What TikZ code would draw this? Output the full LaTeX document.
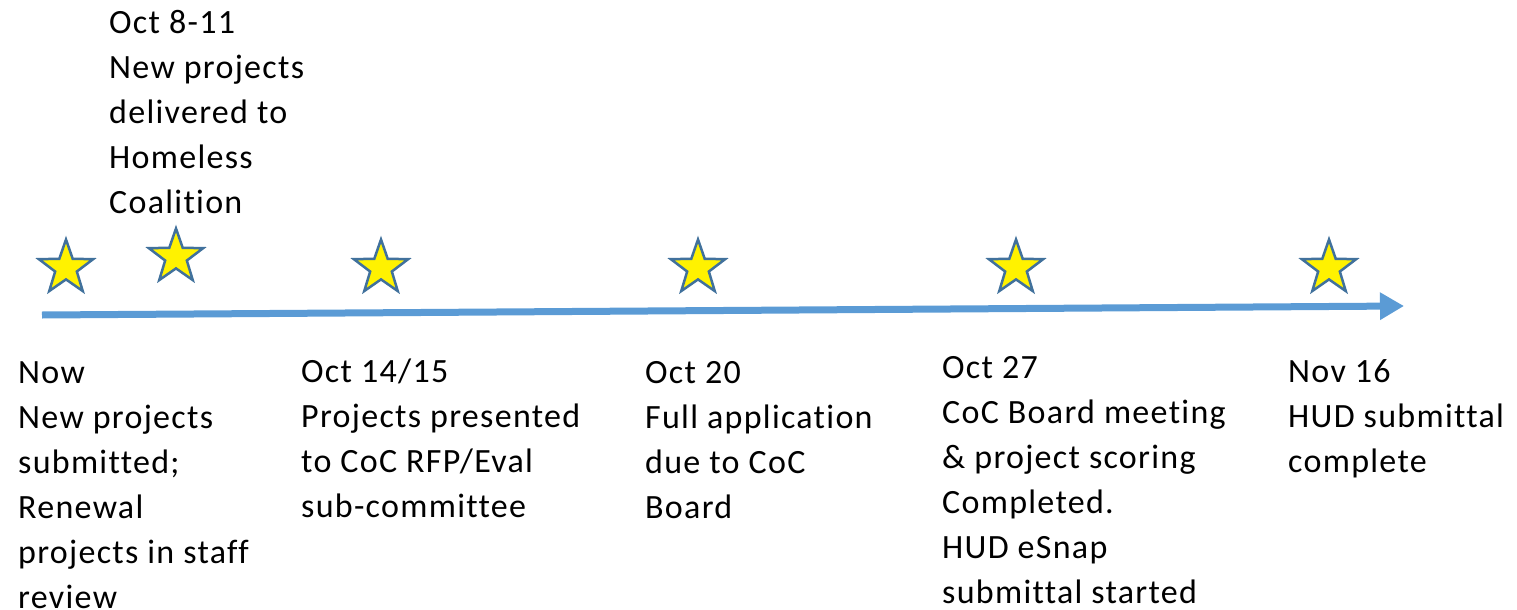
\documentclass[tikz,border=0pt]{standalone}
\usepackage{fontspec}
\setmainfont{Carlito}[LetterSpace=3.8,Ligatures=NoCommon]
\usepackage{tikz}
\usetikzlibrary{positioning,shapes.geometric,arrows.meta}
\definecolor{lineblue}{HTML}{5B9BD5}
\definecolor{starline}{HTML}{41719C}

\begin{document}
\begin{tikzpicture}[%
    x=1pt,
    y=-1pt,
    milestone/.style={%
      star,
      star points=5,
      star point ratio=2.5,
      minimum size=57pt,
      inner sep=0pt,
      fill=yellow,
      draw=starline,
      line width=2.5pt
    },
    note/.style={%
      anchor=north west,
      inner sep=0pt,
      align=left,
      font=\fontsize{34}{45}\selectfont
    }
  ]
    \useasboundingbox (0,0) rectangle (1517,610);

    % timeline
    \coordinate (start) at (42,315);
    \coordinate (end)   at (1404,306);
    \draw[lineblue, line width=7pt, -{Triangle[length=24pt,width=26pt]}] (start) -- (end);

    % stars
    \node[milestone] (s0) at (66,268)   {};
    \node[milestone] (s1) at (176,257)  {};
    \node[milestone] (s2) at (381,268)  {};
    \node[milestone] (s3) at (698,268)  {};
    \node[milestone] (s4) at (1016,268) {};
    \node[milestone] (s5) at (1329,268) {};

    % dates and tasks
    \node[note] (oct8)  at (109,10)  {Oct 8-11\\New projects\\delivered to\\Homeless\\Coalition};
    \node[note] (now)   at (18,361)  {Now\\New projects\\submitted;\\Renewal\\projects in staff\\review};
    \node[note] (oct14) at (301,359) {Oct 14/15\\Projects presented\\to CoC RFP/Eval\\sub-committee};
    \node[note] (oct20) at (645,361) {Oct 20\\Full application\\due to CoC\\Board};
    \node[note] (oct27) at (942,356) {Oct 27\\CoC Board meeting\\\& project scoring\\Completed.\\HUD eSnap\\submittal started};
    \node[note] (nov16) at (1288,359) {Nov 16\\HUD submittal\\complete};
\end{tikzpicture}
\end{document}
